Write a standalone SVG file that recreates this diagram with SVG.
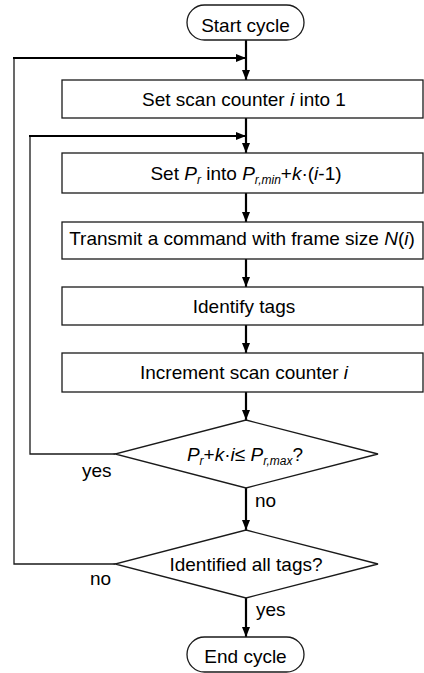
<svg xmlns="http://www.w3.org/2000/svg" width="424" height="673" viewBox="0 0 424 673">
<defs>
<style>
.box{fill:#fff;stroke:#1a1a1a;stroke-width:1.3}
.t{font-family:"Liberation Sans",Arial,sans-serif;font-size:19px;fill:#000;text-anchor:middle}
.l{font-family:"Liberation Sans",Arial,sans-serif;font-size:19px;fill:#000}
.it{font-style:italic}
.sub{font-style:italic;font-size:12px}
.ln{fill:none;stroke:#000;stroke-width:2.2}
.thin{fill:none;stroke:#1a1a1a;stroke-width:1.3}
</style>
<marker id="ah" viewBox="0 0 10 8" refX="10" refY="4" markerWidth="10" markerHeight="8" markerUnits="userSpaceOnUse" orient="auto">
<path d="M0,0 L10,4 L0,8 z" fill="#000"/>
</marker>
</defs>
<rect width="424" height="673" fill="#fff"/>
<g id="connectors">
<line class="ln" x1="246" y1="40" x2="246" y2="80" marker-end="url(#ah)"/>
<polyline class="thin" points="115,564 14,564 14,58"/>
<line class="ln" x1="13" y1="58" x2="246" y2="58" marker-end="url(#ah)"/>
<line class="ln" x1="246" y1="118" x2="246" y2="153" marker-end="url(#ah)"/>
<polyline class="thin" points="115,454 30,454 30,136"/>
<line class="ln" x1="29" y1="136" x2="246" y2="136" marker-end="url(#ah)"/>
<line class="ln" x1="246" y1="193" x2="246" y2="222" marker-end="url(#ah)"/>
<line class="ln" x1="246" y1="259" x2="246" y2="287" marker-end="url(#ah)"/>
<line class="ln" x1="246" y1="325" x2="246" y2="353" marker-end="url(#ah)"/>
<line class="ln" x1="246" y1="392" x2="246" y2="420" marker-end="url(#ah)"/>
<line class="ln" x1="246" y1="488" x2="246" y2="530" marker-end="url(#ah)"/>
<line class="ln" x1="246" y1="598" x2="246" y2="637" marker-end="url(#ah)"/>
<text class="l" x="82" y="477">yes</text>
<text class="l" x="255" y="507">no</text>
<text class="l" x="90" y="585">no</text>
<text class="l" x="256" y="616">yes</text>
</g>
<g id="start">
<rect class="box" x="187" y="5" width="117" height="35" rx="17.5"/>
<text class="t" x="245.5" y="32">Start cycle</text>
</g>
<g id="set-counter">
<rect class="box" x="62" y="80" width="361" height="38"/>
<text class="t" x="244" y="106">Set scan counter <tspan class="it">i</tspan> into 1</text>
</g>
<g id="set-pr">
<rect class="box" x="62" y="153" width="361" height="40"/>
<text class="t" x="246" y="180">Set <tspan class="it">P</tspan><tspan class="sub" dy="4">r</tspan><tspan dy="-4"> into </tspan><tspan class="it">P</tspan><tspan class="sub" dy="4">r,min</tspan><tspan dy="-4">+</tspan><tspan class="it">k</tspan>·(<tspan class="it">i</tspan>-1)</text>
</g>
<g id="transmit">
<rect class="box" x="62" y="222" width="361" height="37"/>
<text class="t" x="242" y="245">Transmit a command with frame size <tspan class="it">N</tspan>(<tspan class="it">i</tspan>)</text>
</g>
<g id="identify">
<rect class="box" x="62" y="287" width="361" height="38"/>
<text class="t" x="244" y="313">Identify tags</text>
</g>
<g id="increment">
<rect class="box" x="62" y="353" width="361" height="39"/>
<text class="t" x="244" y="379">Increment scan counter <tspan class="it">i</tspan></text>
</g>
<g id="decision-pr">
<polygon class="box" points="246,420 378,454 246,488 115,454"/>
<text class="t" x="245" y="461"><tspan class="it">P</tspan><tspan class="sub" dy="4">r</tspan><tspan dy="-4">+</tspan><tspan class="it">k</tspan>·<tspan class="it">i</tspan>≤ <tspan class="it">P</tspan><tspan class="sub" dy="4">r,max</tspan><tspan dy="-4">?</tspan></text>
</g>
<g id="decision-tags">
<polygon class="box" points="246,530 378,564 246,598 115,564"/>
<text class="t" x="246" y="571">Identified all tags?</text>
</g>
<g id="end">
<rect class="box" x="187" y="637" width="117" height="35" rx="17.5"/>
<text class="t" x="245.5" y="663">End cycle</text>
</g>
</svg>
